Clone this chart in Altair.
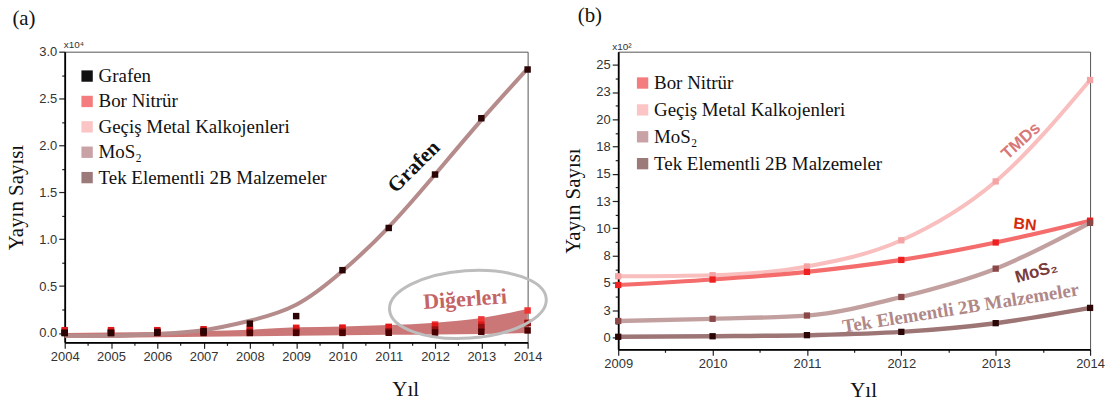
import altair as alt
import pandas as pd

# ---------------- panel (a): values in x10^4 ----------------
years_a = [2004, 2005, 2006, 2007, 2008, 2009, 2010, 2011, 2012, 2013, 2014]
grafen_pts = [0.00, 0.00, 0.01, 0.02, 0.10, 0.18, 0.67, 1.12, 1.69, 2.29, 2.81]
grafen_fit = [-0.03, -0.03, -0.01, 0.03, 0.13, 0.30, 0.66, 1.13, 1.69, 2.27, 2.82]
bn_a = [0.03, 0.03, 0.03, 0.04, 0.05, 0.048, 0.053, 0.061, 0.074, 0.088, 0.108]
tmd_a = [0.02, 0.02, 0.02, 0.025, 0.03, 0.056, 0.057, 0.066, 0.09, 0.145, 0.24]
mos2_a = [0.005, 0.005, 0.005, 0.01, 0.012, 0.014, 0.016, 0.019, 0.036, 0.063, 0.105]
tek_a = [0.0, 0.0, 0.0, 0.0, 0.0, 0.001, 0.001, 0.002, 0.005, 0.013, 0.027]
band_hi = [0.0, 0.005, 0.01, 0.02, 0.035, 0.06, 0.07, 0.085, 0.11, 0.16, 0.255]
band_lo = [-0.05, -0.05, -0.045, -0.04, -0.035, -0.03, -0.025, -0.02, -0.015, -0.01, 0.0]

# ---------------- panel (b): values in x10^2 ----------------
years_b = [2009, 2010, 2011, 2012, 2013, 2014]
tmd_b = [5.6, 5.7, 6.5, 8.9, 14.3, 23.6]
bn_b = [4.8, 5.3, 6.0, 7.1, 8.7, 10.7]
mos2_b = [1.5, 1.7, 2.0, 3.7, 6.3, 10.5]
tek_b = [0.05, 0.1, 0.2, 0.5, 1.3, 2.7]

S_GR = "Grafen"
S_BN = "Bor Nitrür"
S_TMD = "Geçiş  Metal Kalkojenleri"
S_MOS = "MoS₂"
S_TEK = "Tek Elementli 2B Malzemeler"

legend_a = [S_GR, S_BN, S_TMD, S_MOS, S_TEK]
legend_a_colors = ["#111111", "#f47c7e", "#fbc5c5", "#c8a2a4", "#9c7a7a"]
legend_b = [S_BN, S_TMD, S_MOS, S_TEK]
legend_b_colors = ["#f47c7e", "#fbc5c5", "#c8a2a4", "#9c7a7a"]

xticks_a = [2004 + 0.5 * i for i in range(21)]
yticks_a = [0.25 * i for i in range(13)]
xticks_b = [2009 + 0.5 * i for i in range(11)]
yticks_b = [1.25 * i for i in range(21)]

SERIF = "Liberation Serif"
SANS = "Liberation Sans"

# ---------------- shared encodings ----------------
minor_x = "datum.value % 1 != 0"
axis_xa = alt.Axis(values=xticks_a, labelExpr="datum.value % 1 == 0 ? format(datum.value, 'd') : ''",
                   tickSize={"condition": {"test": minor_x, "value": 3}, "value": 6},
                   titleX=342, titleY=36)
axis_ya = alt.Axis(values=yticks_a,
                   labelExpr="(datum.value*4) % 2 == 0 ? format(datum.value, '.1f') : ''",
                   tickSize={"condition": {"test": "(datum.value*4) % 2 != 0", "value": 3}, "value": 6},
                   titlePadding=12)
axis_xb = alt.Axis(values=xticks_b, labelExpr="datum.value % 1 == 0 ? format(datum.value, 'd') : ''",
                   tickSize={"condition": {"test": minor_x, "value": 3}, "value": 6},
                   titleX=246, titleY=30)
axis_yb = alt.Axis(values=yticks_b,
                   labelExpr="(datum.value/1.25) % 2 == 0 ? format(round(datum.value), 'd') : ''",
                   tickSize={"condition": {"test": "(datum.value/1.25) % 2 != 0", "value": 3}, "value": 6},
                   titlePadding=12)

sc_xa = alt.Scale(domain=[2004, 2014], nice=False, zero=False)
sc_ya = alt.Scale(domain=[-0.1, 3.0], nice=False, zero=False)
sc_xb = alt.Scale(domain=[2009, 2014], nice=False, zero=False)
sc_yb = alt.Scale(domain=[-1.1, 26.2], nice=False, zero=False)


def XA(f="year"):
    return alt.X(f"{f}:Q", scale=sc_xa, axis=axis_xa, title="Yıl")


def YA(f="v"):
    return alt.Y(f"{f}:Q", scale=sc_ya, axis=axis_ya, title="Yayın Sayısı")


def XB(f="year"):
    return alt.X(f"{f}:Q", scale=sc_xb, axis=axis_xb, title="Yıl")


def YB(f="v"):
    return alt.Y(f"{f}:Q", scale=sc_yb, axis=axis_yb, title="Yayın Sayısı")


# ---------------- panel (a) ----------------
band_df = pd.DataFrame({"year": years_a, "lo": band_lo, "hi": band_hi})
fit_df = pd.DataFrame({"year": years_a, "v": grafen_fit})
pts_a = []
for name, vals in [(S_TMD, tmd_a), (S_BN, bn_a), (S_MOS, mos2_a), (S_TEK, tek_a), (S_GR, grafen_pts)]:
    for y, v in zip(years_a, vals):
        pts_a.append({"series": name, "year": y, "v": v})
pts_a = pd.DataFrame(pts_a)
leg_a_df = pd.DataFrame({"series": legend_a, "year": [2004] * 5, "v": [0] * 5})

band = alt.Chart(band_df).mark_area(color="#c76b6b", opacity=0.92, interpolate="monotone").encode(
    x=XA(), y=YA("lo"), y2="hi:Q")
gline = alt.Chart(fit_df).mark_line(color="#b58b8b", strokeWidth=4, interpolate="natural").encode(
    x=XA(), y=YA())
points_a = alt.Chart(pts_a).mark_square(size=42, opacity=1).encode(
    x=XA(), y=YA(),
    fill=alt.Fill("series:N", legend=None,
                  scale=alt.Scale(domain=[S_TMD, S_BN, S_MOS, S_TEK, S_GR],
                                  range=["#f03434", "#e01818", "#901212", "#4a0000", "#2b0505"])))
legend_layer_a = alt.Chart(leg_a_df).mark_square(opacity=0).encode(
    x=XA(), y=YA(),
    color=alt.Color("series:N", scale=alt.Scale(domain=legend_a, range=legend_a_colors),
                    legend=alt.Legend(title=None, legendX=13, legendY=15, symbolOpacity=1,
                                      rowPadding=5.5)))

grafen_lbl = alt.Chart(pd.DataFrame({"year": [2011.55], "v": [1.77], "t": ["Grafen"]})).mark_text(
    angle=315, font=SERIF, fontSize=21, fontWeight="bold", color="#111").encode(x=XA(), y=YA(), text="t:N")
diger_lbl = alt.Chart(pd.DataFrame({"year": [2012.65], "v": [0.36], "t": ["Diğerleri"]})).mark_text(
    angle=356, font=SERIF, fontSize=22, fontWeight="bold", color="#c46464").encode(x=XA(), y=YA(), text="t:N")
ellipse = alt.Chart(pd.DataFrame({"year": [2012.71], "v": [0.305]})).mark_point(
    shape="M -1 0 A 1 0.43 0 1 0 1 0 A 1 0.43 0 1 0 -1 0", size=24900, filled=False,
    stroke="#bdbdbd", strokeWidth=3, angle=356, opacity=1).encode(x=XA(), y=YA())
x10_a = alt.Chart(pd.DataFrame({"year": [2004.2], "v": [3.07], "t": ["x10⁴"]})).mark_text(
    font=SANS, fontSize=10, color="#333").encode(x=XA(), y=YA(), text="t:N")
tag_a = alt.Chart(pd.DataFrame({"year": [2003.12], "v": [3.35], "t": ["(a)"]})).mark_text(
    font=SERIF, fontSize=21, color="#111").encode(x=XA(), y=YA(), text="t:N")

left = alt.layer(band, gline, points_a, ellipse, grafen_lbl, diger_lbl, x10_a, tag_a,
                 legend_layer_a).properties(width=465, height=292)

# ---------------- panel (b) ----------------
rows_b = []
for name, vals in [(S_TMD, tmd_b), (S_BN, bn_b), (S_MOS, mos2_b), (S_TEK, tek_b)]:
    for y, v in zip(years_b, vals):
        rows_b.append({"series": name, "year": y, "v": v})
df_b = pd.DataFrame(rows_b)
leg_b_df = pd.DataFrame({"series": legend_b, "year": [2009] * 4, "v": [0] * 4})

lines_b = alt.Chart(df_b).mark_line(interpolate="monotone").encode(
    x=XB(), y=YB(), detail="series:N",
    stroke=alt.Stroke("series:N", legend=None,
                      scale=alt.Scale(domain=[S_TMD, S_BN, S_MOS, S_TEK],
                                      range=["#f9bebe", "#f46c6c", "#c3a0a0", "#9d7575"])),
    strokeWidth=alt.StrokeWidth("series:N", legend=None,
                                scale=alt.Scale(domain=[S_TMD, S_BN, S_MOS, S_TEK], range=[4, 4.5, 5.5, 4])))
points_b = alt.Chart(df_b).mark_square(size=40, opacity=1).encode(
    x=XB(), y=YB(),
    fill=alt.Fill("series:N", legend=None,
                  scale=alt.Scale(domain=[S_TMD, S_BN, S_MOS, S_TEK],
                                  range=["#f4a4a4", "#ee2020", "#8a4848", "#2a0606"])))
legend_layer_b = alt.Chart(leg_b_df).mark_square(opacity=0).encode(
    x=XB(), y=YB(),
    color=alt.Color("series:N", scale=alt.Scale(domain=legend_b, range=legend_b_colors),
                    legend=alt.Legend(title=None, legendX=15, legendY=22, symbolOpacity=1,
                                      rowPadding=7)))

ann_b = [
    (2013.27, 18.0, "TMDs", 318, SANS, 17, "#d87878"),
    (2013.31, 10.35, "BN", 6, SANS, 16, "#d42b0c"),
    (2013.43, 5.97, "MoS₂", 344, SANS, 17, "#7a3b3b"),
    (2012.63, 2.68, "Tek Elementli 2B Malzemeler", 351, SERIF, 19, "#b08888"),
]
ann_layers = []
for yr, v, t, ang, fnt, fs, col in ann_b:
    ann_layers.append(alt.Chart(pd.DataFrame({"year": [yr], "v": [v], "t": [t]})).mark_text(
        angle=ang, font=fnt, fontSize=fs, fontWeight="bold", color=col).encode(x=XB(), y=YB(), text="t:N"))
x10_b = alt.Chart(pd.DataFrame({"year": [2009.04], "v": [26.6], "t": ["x10²"]})).mark_text(
    font=SANS, fontSize=10, color="#333").encode(x=XB(), y=YB(), text="t:N")
tag_b = alt.Chart(pd.DataFrame({"year": [2008.70], "v": [29.45], "t": ["(b)"]})).mark_text(
    font=SERIF, fontSize=21, color="#111").encode(x=XB(), y=YB(), text="t:N")

right = alt.layer(lines_b, points_b, *ann_layers, x10_b, tag_b, legend_layer_b).properties(
    width=474, height=299)

chart = alt.hconcat(left, right, spacing=9).resolve_scale(
    color="independent", fill="independent", stroke="independent", strokeWidth="independent"
).resolve_legend(color="independent").properties(
    padding={"left": 5, "top": 3, "right": 0, "bottom": 0}, background="white"
).configure_view(stroke="#555", strokeWidth=1).configure_axis(
    grid=False, labelFont=SANS, labelFontSize=13, labelColor="#333", labelOverlap=False, labelFlush=False,
    titleFont=SERIF, titleFontSize=21, titleFontWeight="normal", titleColor="#111",
    domainColor="#000", domainWidth=1.8, tickColor="#222", tickWidth=1.2, labelPadding=2
).configure_legend(
    orient="none", symbolType="square", symbolSize=130, labelFont=SERIF, labelFontSize=19,
    labelColor="#111", labelOffset=2, padding=0, symbolStrokeWidth=0, labelLimit=400
)

chart.save("out.html", embed_options={"renderer": "svg", "actions": False})
